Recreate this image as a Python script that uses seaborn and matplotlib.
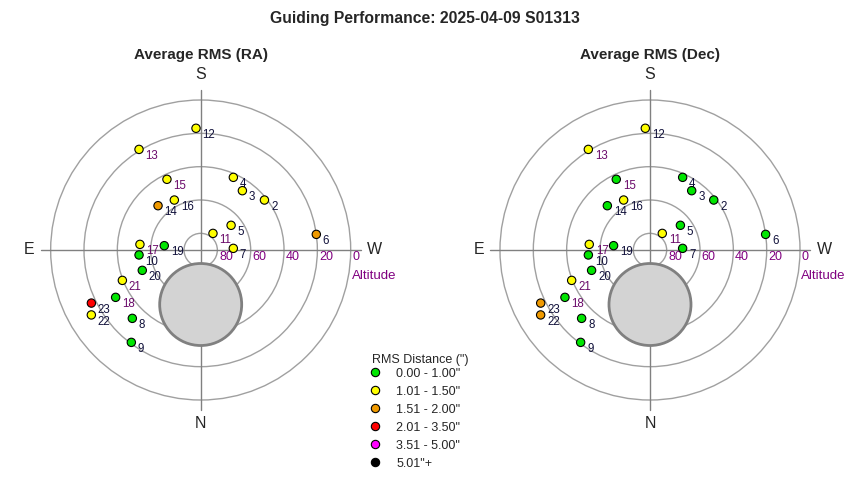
import numpy as np
import pandas as pd
import matplotlib
matplotlib.use('Agg')
import matplotlib.pyplot as plt
from matplotlib.patches import Circle
from matplotlib.lines import Line2D
import seaborn as sns

# Data (altitude / azimuth in degrees)
point_ids = [2, 3, 4, 5, 6, 7, 8, 9, 10, 11, 12, 13, 14, 15, 16, 17, 18, 19, 20, 21, 22, 23]
altitude = [41.4, 46.5, 42.2, 66.5, 20.0, 70.4, 32.0, 20.7, 52.9, 77.6, 16.9,
            19.2, 53.1, 43.0, 56.1, 53.4, 31.6, 68.0, 52.9, 39.6, 13.7, 17.1]
azimuth = [231.9, 215.1, 204.2, 230.9, 262.3, 267.1, 45.0, 36.9, 85.4, 216.5, 177.8,
           148.5, 136.1, 154.5, 152.2, 95.3, 60.9, 96.8, 70.8, 68.8, 59.3, 64.1]

# RMS class for each point (index into rms_labels)
ra_class = [1, 1, 1, 1, 2, 1, 0, 0, 0, 1, 1, 1, 2, 1, 1, 1, 0, 0, 0, 1, 1, 3]
dec_class = [0, 0, 0, 0, 0, 0, 0, 0, 0, 1, 1, 1, 0, 0, 1, 1, 0, 0, 0, 1, 2, 2]

rms_labels = ['0.00 - 1.00"', '1.01 - 1.50"', '1.51 - 2.00"', '2.01 - 3.50"', '3.51 - 5.00"', '5.01"+']
rms_colors = ['#00e600', '#ffff00', '#f09a00', '#ff0000', '#ff00ff', '#000000']

purple_ids = [11, 13, 15, 17, 18, 21]

alt_rings = [80, 60, 40, 20, 0]

# excluded region (grey disc) centre altitude/azimuth and radius
excl_alt, excl_az, excl_radius = 57.3, 0.0, 24.6

# convert to plot coordinates: S up, N down, E left, W right
r = 90 - np.array(altitude)
az = np.radians(azimuth)
x = -r * np.sin(az)
y = -r * np.cos(az)

sns.set_theme(style='white')
plt.rcParams['font.family'] = ['Liberation Sans', 'DejaVu Sans']

fig = plt.figure(figsize=(8.5, 4.8), dpi=100)
fig.text(0.5, 1 - 18 / 480, 'Guiding Performance: 2025-04-09 S01313',
         ha='center', va='center', fontsize=11.3, fontweight='bold')

panels = [('Average RMS (RA)', ra_class, 0.0400), ('Average RMS (Dec)', dec_class, 0.5686)]

for title, classes, left in panels:
    ax = fig.add_axes([left, 0.0972, 0.3922, 0.7639])
    ax.set_xlim(-100, 100)
    ax.set_ylim(-110, 110)
    ax.axis('off')

    # altitude rings and cross hair
    for a in alt_rings:
        ax.add_patch(Circle((0, 0), 90 - a, fill=False, edgecolor='#a0a0a0', lw=1, zorder=1))
        ax.text(90 - a + 1.0, -4.3, str(a), color='#800080', fontsize=9,
                ha='left', va='center')
    ax.plot([-96, 96], [0, 0], color='#808080', lw=1, zorder=1)
    ax.plot([0, 0], [-96, 96], color='#808080', lw=1, zorder=1)
    ax.text(90.6, -15.3, 'Altitude', color='#800080', fontsize=9.5, ha='left', va='center')

    # grey excluded disc
    er = 90 - excl_alt
    ax.add_patch(Circle((-er * np.sin(np.radians(excl_az)), -er * np.cos(np.radians(excl_az))),
                        excl_radius, facecolor='#d3d3d3', edgecolor='#808080', lw=2, zorder=2))

    # compass letters and panel title
    ax.text(0, 105.5, 'S', fontsize=11.5, ha='center', va='center')
    ax.text(0, -104, 'N', fontsize=11.5, ha='center', va='center')
    ax.text(-102.8, 0.5, 'E', fontsize=11.5, ha='center', va='center')
    ax.text(104.5, 0.5, 'W', fontsize=11.5, ha='center', va='center')
    ax.text(0, 117, title, fontsize=11, fontweight='bold', ha='center', va='center')

    df = pd.DataFrame({'x': x, 'y': y, 'rms': [rms_labels[c] for c in classes]})
    sns.scatterplot(data=df, x='x', y='y', hue='rms', hue_order=rms_labels,
                    palette=rms_colors, s=36, edgecolor='black', linewidth=0.8,
                    legend=False, zorder=3, ax=ax)

    for pid, px, py in zip(point_ids, x, y):
        col = '#6a0a6a' if pid in purple_ids else '#10103a'
        ax.annotate(str(pid), (px, py), xytext=(4.7, -4.8), textcoords='offset points',
                    fontsize=8.3, color=col, ha='left', va='center', zorder=4)

handles = [Line2D([], [], marker='o', linestyle='none', markersize=6,
                  markerfacecolor=c, markeredgecolor='black', markeredgewidth=0.8)
           for c in rms_colors]
leg = fig.legend(handles, rms_labels, title='RMS Distance (")', loc='upper left',
                 bbox_to_anchor=(0.4376, 0.262), frameon=False, fontsize=9,
                 title_fontsize=9, alignment='left', borderpad=0, borderaxespad=0,
                 handlelength=0.5, handletextpad=1.44, labelspacing=0.48)
# tighter gap between legend title and first entry
leg._legend_box.sep = 1

fig.savefig('out.png', dpi=100)
